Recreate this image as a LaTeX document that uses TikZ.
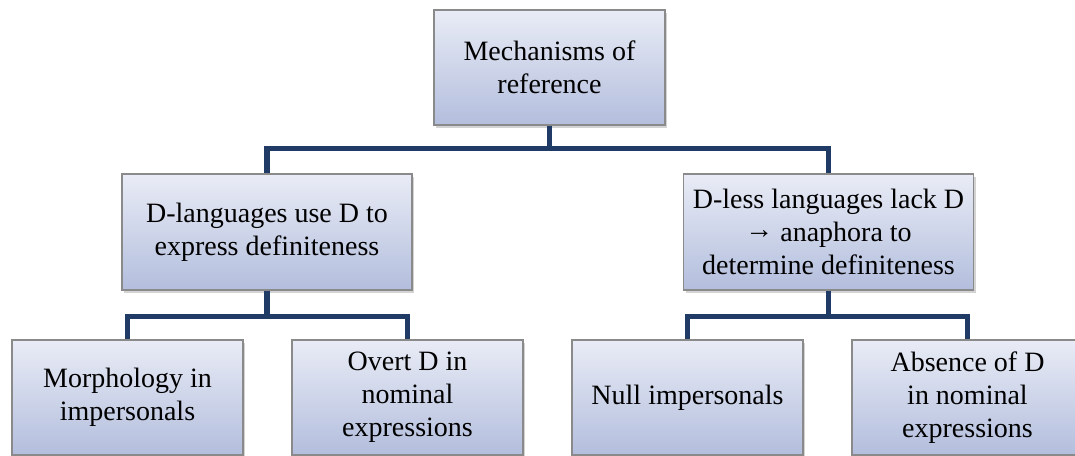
\documentclass[tikz,border=0pt]{standalone}
\usepackage{fontspec}
\setmainfont{Liberation Serif}
\usetikzlibrary{shadows}
\definecolor{boxtop}{HTML}{E9ECF6}
\definecolor{boxbot}{HTML}{B3BEDD}
\definecolor{boxline}{HTML}{8A8A8A}
\definecolor{linkblue}{HTML}{1F3B66}
\tikzset{
  box/.style={draw=boxline, line width=0.6pt, top color=boxtop, bottom color=boxbot,
    align=center, font=\fontsize{14}{16.5}\selectfont, inner sep=2pt,
    drop shadow={opacity=0.35, shadow xshift=1.2pt, shadow yshift=-1.6pt}},
  leafbox/.style={box, minimum width=115.5pt, minimum height=57.5pt},
  midbox/.style={box, minimum width=145pt, minimum height=58pt},
  link/.style={draw=linkblue, line width=2.6pt}
}
\begin{document}
\begin{tikzpicture}[x=0.5pt,y=-0.5pt]
\useasboundingbox (0,0) rectangle (1075,455);

\node[leafbox] (mech) at (549.5,67.5) {Mechanisms of\\reference};

\node[midbox] (dlang) at (267,232) {D-languages use D to\\express definiteness};
\node[midbox] (dless) at (828.5,232) {D-less languages lack D\\\raisebox{1.6pt}{→} anaphora to\\determine definiteness};

\node[leafbox] (morph) at (127.5,397.5) {Morphology in\\impersonals};
\node[leafbox] (overt) at (407.5,397.5) {Overt D in\\nominal\\expressions};
\node[leafbox] (null) at (687.5,397.5) {Null impersonals};
\node[leafbox] (absence) at (967.5,397.5) {Absence of D\\in nominal\\expressions};

% connectors
\draw[link] (mech.south) -- ++(0,23) -| (dlang.north);
\draw[link] (mech.south) -- ++(0,23) -| (dless.north);
\draw[link] (dlang.south) -- ++(0,26) -| (morph.north);
\draw[link] (dlang.south) -- ++(0,26) -| (overt.north);
\draw[link] (dless.south) -- ++(0,26) -| (null.north);
\draw[link] (dless.south) -- ++(0,26) -| (absence.north);
\end{tikzpicture}
\end{document}
